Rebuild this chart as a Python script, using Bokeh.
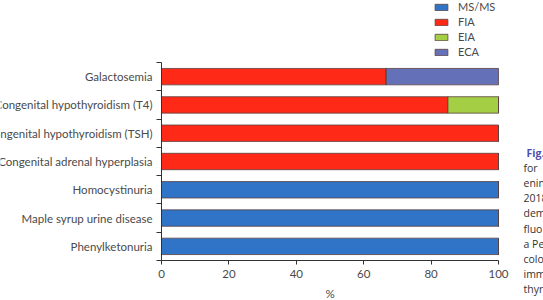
from bokeh.plotting import figure
from bokeh.models import ColumnDataSource, FixedTicker, Range1d, Legend, LegendItem
from bokeh.core.properties import value
from bokeh.embed import file_html
from bokeh.resources import INLINE

categories = ["Phenylketonuria", "Maple syrup urine disease", "Homocystinuria",
              "Congenital adrenal hyperplasia", "Congenital hypothyroidism (TSH)",
              "Congenital hypothyroidism (T4)", "Galactosemia"]
ms_ms = [100, 100, 100, 0, 0, 0, 0]
fia = [0, 0, 0, 100, 100, 85, 66.7]
eia = [0, 0, 0, 0, 0, 15, 0]
eca = [0, 0, 0, 0, 0, 0, 33.3]
series = ["MS/MS", "FIA", "EIA", "ECA"]
colors = ["#2f74c6", "#fe2a17", "#a4cf45", "#6470b8"]
x_ticks = [0, 20, 40, 60, 80, 100]
x_label = "%"
caption_head = "Fig."
caption_lines = ["for", "enin", "2018", "dem", "fluo", "a Pe", "colo", "imm", "thyr"]

FONT = "Lato"
TXT = "#4a4a4a"

# page geometry (pixels); the frame fills the whole page, axes are fixed inside it
PAGE_W, PAGE_H = 543, 300
AX_LEFT, AX_RIGHT = 161, 498
AX_BOTTOM, AX_TOP = 260, 62
n = len(categories)
px_per_cat = (AX_BOTTOM - AX_TOP) / n
px_per_pct = (AX_RIGHT - AX_LEFT) / 100.0


def px_to_x(px):
    return (px - AX_LEFT) / px_per_pct


def py_to_y(py):
    return (AX_BOTTOM - py) / px_per_cat


ypos = [i + 0.5 for i in range(n)]
src = ColumnDataSource(dict(y=ypos, **{"MS/MS": ms_ms, "FIA": fia, "EIA": eia, "ECA": eca}))

p = figure(width=PAGE_W, height=PAGE_H, output_backend="svg", toolbar_location=None,
           x_range=Range1d(px_to_x(0), px_to_x(PAGE_W)),
           y_range=Range1d(py_to_y(PAGE_H), py_to_y(0)),
           min_border=0, min_border_left=0, min_border_right=0,
           min_border_top=0, min_border_bottom=0)
p.outline_line_color = None
p.xgrid.visible = False
p.ygrid.visible = False

rs = p.hbar_stack(series, y="y", height=0.58, color=colors, source=src,
                  line_color="#5a4040", line_width=0.8)

xa = p.xaxis[0]
xa.fixed_location = 0
xa.bounds = (0, 100)
xa.ticker = FixedTicker(ticks=x_ticks)
xa.axis_label = x_label
xa.axis_label_text_font = FONT
xa.axis_label_text_font_style = "normal"
xa.axis_label_text_font_size = "11.5px"
xa.axis_label_text_color = TXT
xa.axis_label_standoff = 6
xa.major_label_text_font = FONT
xa.major_label_text_font_size = "11.5px"
xa.major_label_text_color = TXT
xa.major_label_standoff = 5
xa.major_tick_in = 0
xa.major_tick_out = 4
xa.minor_tick_out = 0
xa.axis_line_color = "#333333"
xa.major_tick_line_color = "#333333"

ya = p.yaxis[0]
ya.fixed_location = 0
ya.bounds = (0, n)
ya.ticker = FixedTicker(ticks=ypos, minor_ticks=list(range(n + 1)))
ya.major_label_overrides = {y: c for y, c in zip(ypos, categories)}
ya.major_label_text_font = FONT
ya.major_label_text_font_size = "11.5px"
ya.major_label_text_color = TXT
ya.major_tick_in = 0
ya.major_tick_out = 0
ya.minor_tick_in = 0
ya.minor_tick_out = 5
ya.minor_tick_line_width = 1
ya.minor_tick_line_color = "#333333"
ya.major_label_standoff = 4
ya.axis_line_color = "#333333"

items = [LegendItem(label=s, renderers=[r]) for s, r in zip(series, rs)]
legend = Legend(items=items, location=(433, PAGE_H - 58), padding=0, margin=0,
                spacing=2, glyph_width=16, glyph_height=8, label_height=11,
                label_text_font=FONT, label_text_font_size="11px",
                label_text_color=TXT, label_standoff=9,
                border_line_color=None, background_fill_alpha=0)
p.add_layout(legend, "center")

# cut-off caption fragment at the right edge of the page
line_gap = 15.2
cap_top = 152
p.text(x=[px_to_x(526)], y=[py_to_y(cap_top)], text=[caption_head],
       text_font=value("Open Sans"), text_font_style="bold", text_font_size="10.5px",
       text_color="#4b4fae", text_baseline="middle")
p.text(x=[px_to_x(523)] * len(caption_lines),
       y=[py_to_y(cap_top + (i + 1) * line_gap) for i in range(len(caption_lines))],
       text=caption_lines, text_font=value("Open Sans"), text_font_size="10.5px",
       text_color="#333333", text_baseline="middle")

open("out.html", "w").write(file_html(p, INLINE))
